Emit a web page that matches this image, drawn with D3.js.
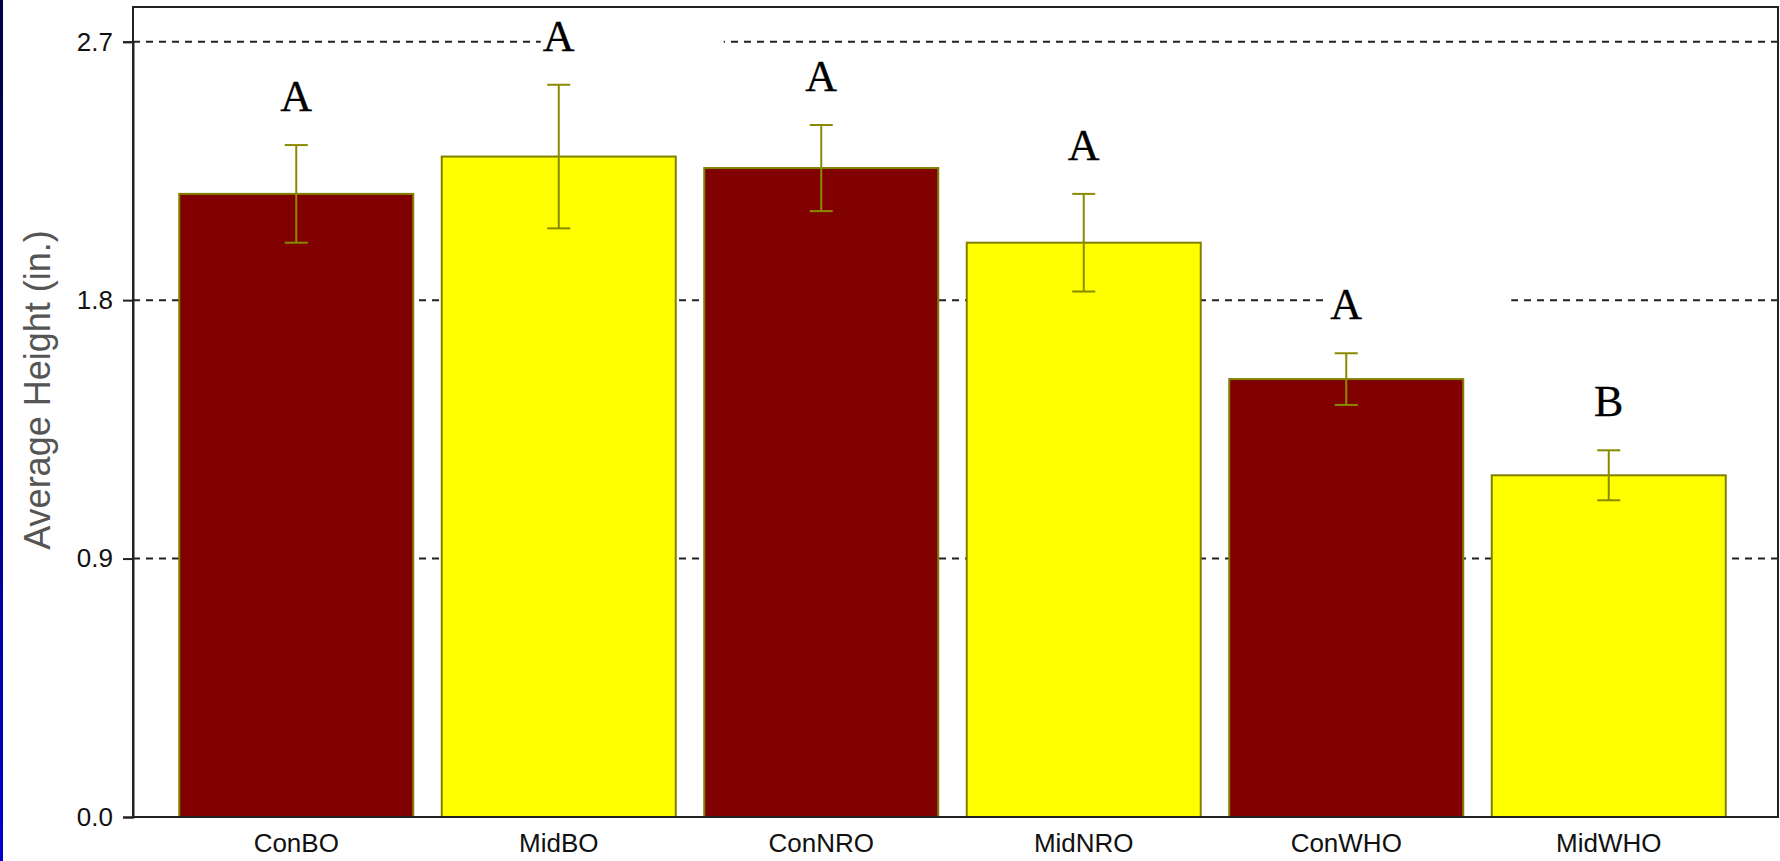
<!DOCTYPE html>
<html>
<head>
<meta charset="utf-8">
<script src="https://cdn.jsdelivr.net/npm/d3@7"></script>
<style>
  html, body { margin: 0; padding: 0; background: #ffffff; }
  svg { display: block; }
</style>
</head>
<body>
<svg id="chart" width="1780" height="861"></svg>
<script>
// Plant height by treatment group
const categories = ["ConBO", "MidBO", "ConNRO", "MidNRO", "ConWHO", "MidWHO"];
const treatments = ["Con", "Mid", "Con", "Mid", "Con", "Mid"];
const means = [2.17, 2.30, 2.26, 2.00, 1.525, 1.19];
const errors = [0.17, 0.25, 0.15, 0.17, 0.09, 0.087];
const groupLetters = ["A", "A", "A", "A", "A", "B"];
const yTicks = [0.0, 0.9, 1.8, 2.7];
const yTitle = "Average Height (in.)";

const W = 1780, H = 861;
const plot = { left: 133, top: 7, right: 1778, bottom: 817 };

const svg = d3.select("#chart");

const x = d3.scaleBand()
  .domain(categories)
  .range([165, 1740])
  .paddingInner(0.1086)
  .paddingOuter(0.0543);

const y = d3.scaleLinear()
  .domain([0, 2.7])
  .range([plot.bottom, 41.7]);

const fill = d3.scaleOrdinal()
  .domain(["Con", "Mid"])
  .range(["#800000", "#ffff00"]);

const rows = categories.map((c, i) => ({
  cat: c, trt: treatments[i], mean: means[i], err: errors[i], letter: groupLetters[i]
}));

// Slide edge strip on the left
const defs = svg.append("defs");
const grad = defs.append("linearGradient")
  .attr("id", "edge").attr("x1", 0).attr("y1", 0).attr("x2", 0).attr("y2", 1);
grad.append("stop").attr("offset", "0%").attr("stop-color", "#000044");
grad.append("stop").attr("offset", "100%").attr("stop-color", "#0000cc");
svg.append("rect").attr("x", 0).attr("y", 0).attr("width", 3).attr("height", H)
  .attr("fill", "url(#edge)");

// Dashed reference lines
svg.append("g").selectAll("line")
  .data(yTicks.filter(d => d > 0))
  .join("line")
  .attr("x1", plot.left).attr("x2", plot.right)
  .attr("y1", d => y(d)).attr("y2", d => y(d))
  .attr("stroke", "#222")
  .attr("stroke-width", 2)
  .attr("stroke-dasharray", "7,6");

// Bars
svg.append("g").selectAll("rect")
  .data(rows)
  .join("rect")
  .attr("x", d => x(d.cat))
  .attr("y", d => y(d.mean))
  .attr("width", x.bandwidth())
  .attr("height", d => y(0) - y(d.mean))
  .attr("fill", d => fill(d.trt))
  .attr("stroke", "#808000")
  .attr("stroke-width", 2);

// Error bars
const cap = 11.5;
const eb = svg.append("g")
  .attr("stroke", "#8a8a00")
  .attr("stroke-width", 2)
  .attr("fill", "none");
rows.forEach(d => {
  const cx = x(d.cat) + x.bandwidth() / 2;
  const yHi = y(d.mean + d.err), yLo = y(d.mean - d.err);
  eb.append("line").attr("x1", cx).attr("x2", cx).attr("y1", yHi).attr("y2", yLo);
  eb.append("line").attr("x1", cx - cap).attr("x2", cx + cap).attr("y1", yHi).attr("y2", yHi);
  eb.append("line").attr("x1", cx - cap).attr("x2", cx + cap).attr("y1", yLo).attr("y2", yLo);
});

// Significance group letters on white label boxes
const letterGap = 34;
const lab = svg.append("g");
rows.forEach(d => {
  const cx = x(d.cat) + x.bandwidth() / 2;
  const base = y(d.mean + d.err) - letterGap;
  lab.append("rect")
    .attr("x", cx - 18).attr("y", base - 38)
    .attr("width", 183).attr("height", 46)
    .attr("fill", "#ffffff");
  lab.append("text")
    .attr("x", cx).attr("y", base)
    .attr("text-anchor", "middle")
    .attr("font-family", "'Liberation Serif', 'Times New Roman', serif")
    .attr("font-size", 44)
    .attr("fill", "#000")
    .attr("stroke", "#000")
    .attr("stroke-width", 0.3)
    .text(d.letter);
});

// Plot frame
svg.append("rect")
  .attr("x", plot.left).attr("y", plot.top)
  .attr("width", plot.right - plot.left).attr("height", plot.bottom - plot.top)
  .attr("fill", "none").attr("stroke", "#222").attr("stroke-width", 2);

// Y axis
const yAxis = svg.append("g")
  .attr("transform", `translate(${plot.left},0)`)
  .call(d3.axisLeft(y).tickValues(yTicks).tickFormat(d3.format(".1f"))
    .tickSize(10).tickPadding(10));
yAxis.select(".domain").attr("stroke", "#222").attr("stroke-width", 2);
yAxis.selectAll(".tick line").attr("stroke", "#222").attr("stroke-width", 2);
yAxis.selectAll(".tick text")
  .attr("font-family", "'Liberation Sans', Arial, sans-serif")
  .attr("font-size", 26)
  .attr("fill", "#111");

// X axis
const xAxis = svg.append("g")
  .attr("transform", `translate(0,${plot.bottom})`)
  .call(d3.axisBottom(x).tickSize(0).tickPadding(17));
xAxis.select(".domain").remove();
xAxis.selectAll(".tick text")
  .attr("font-family", "'Liberation Sans', Arial, sans-serif")
  .attr("font-size", 26)
  .attr("fill", "#111");

// Y axis title
svg.append("text")
  .attr("transform", "translate(50,390) rotate(-90)")
  .attr("text-anchor", "middle")
  .attr("font-family", "'Liberation Sans', Arial, sans-serif")
  .attr("font-size", 36)
  .attr("fill", "#555")
  .text(yTitle);
</script>
</body>
</html>
